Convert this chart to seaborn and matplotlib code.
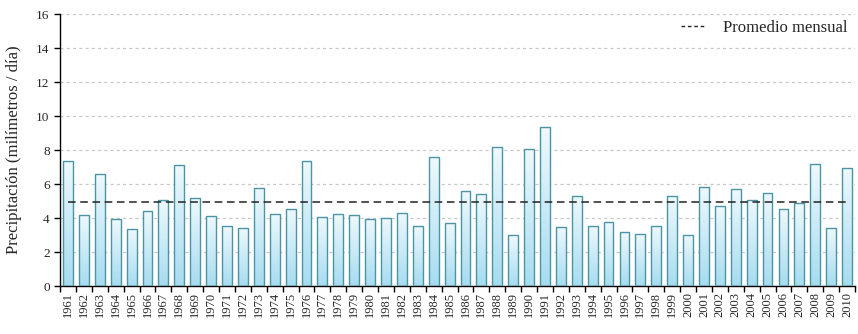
import numpy as np
import pandas as pd
import seaborn as sns
import matplotlib.pyplot as plt
from matplotlib.colors import LinearSegmentedColormap
from matplotlib.lines import Line2D

# datos: precipitación media anual (mm/día)
years = [str(y) for y in range(1961, 2011)]
precip = [7.39, 4.21, 6.57, 3.95, 3.38, 4.44, 5.05, 7.15, 5.21, 4.13,
          3.52, 3.44, 5.80, 4.27, 4.56, 7.39, 4.05, 4.25, 4.21, 3.95,
          4.03, 4.32, 3.54, 7.57, 3.73, 5.60, 5.43, 8.20, 2.99, 8.06,
          9.34, 3.48, 5.31, 3.54, 3.77, 3.20, 3.07, 3.54, 5.29, 3.01,
          5.86, 4.74, 5.72, 5.07, 5.50, 4.52, 4.87, 7.19, 3.44, 6.98]
promedio = 4.95
y_ticks = [0, 2, 4, 6, 8, 10, 12, 14, 16]

df = pd.DataFrame({'año': years, 'precip': precip})

sns.set_style('white')
plt.rcParams['font.family'] = ['Liberation Serif', 'DejaVu Serif']

fig = plt.figure(figsize=(8.58, 3.34), dpi=100)
ax = fig.add_axes([0.07, 0.1437, 0.9265, 0.8133])

sns.barplot(data=df, x='año', y='precip', ax=ax, width=0.62,
            color='#c8ecf8', edgecolor='#4a94a3', linewidth=1.0, zorder=3)

# relleno degradado dentro de cada barra
cmap = LinearSegmentedColormap.from_list('grad', ['#a6dcf0', '#eff9fd'])
grad = np.linspace(0, 1, 256).reshape(-1, 1)
for p in ax.patches:
    x0, w, h = p.get_x(), p.get_width(), p.get_height()
    im = ax.imshow(grad, cmap=cmap, origin='lower', aspect='auto',
                   extent=[x0, x0 + w, 0, h], zorder=2.5)
    im.set_clip_path(p)
    p.set_facecolor('none')

# línea del promedio mensual
ax.plot([0, len(years) - 1], [promedio, promedio], ls=(0, (5, 3)),
        color='#222222', lw=1.1, zorder=4)

ax.set_xlim(-0.5, len(years) - 0.5)
ax.set_ylim(0, 16)
ax.set_yticks(y_ticks)
ax.yaxis.grid(True, ls=(0, (2.5, 2.5)), color='#c8c8c8', lw=0.9, zorder=0)
ax.set_axisbelow(True)

for s in ['top', 'right']:
    ax.spines[s].set_visible(False)
for s in ['left', 'bottom']:
    ax.spines[s].set_color('black')
    ax.spines[s].set_linewidth(1.0)

ax.set_xticks(range(len(years)))
ax.set_xticklabels(years, rotation=90, fontsize=9)
ax.set_xticks(np.arange(-0.5, len(years)), minor=True)
ax.tick_params(axis='x', which='major', length=0, pad=4)
ax.tick_params(axis='x', which='minor', length=4, width=1, color='black', direction='out', bottom=True)
ax.tick_params(axis='y', length=4, width=1, color='black', direction='out', left=True, labelsize=9.5)

ax.set_xlabel('')
ax.set_ylabel('Precipitación (milímetros / día)', fontsize=12, labelpad=10)

handle = Line2D([], [], color='#222222', lw=1.0, ls=(0, (2.6, 2.0)))
ax.legend([handle], ['Promedio mensual'], loc='upper right', frameon=False,
          fontsize=12, handlelength=1.45, handletextpad=1.1,
          bbox_to_anchor=(1.01, 1.035))

fig.savefig('out.png', dpi=100)
